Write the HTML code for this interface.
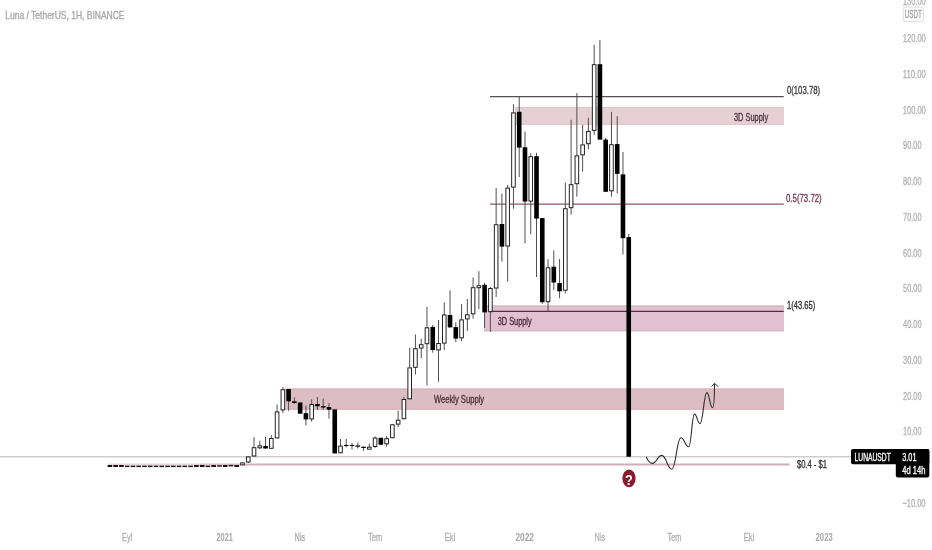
<!DOCTYPE html>
<html><head><meta charset="utf-8"><title>Luna / TetherUS</title>
<style>
html,body{margin:0;padding:0;background:#fff;}
body{width:932px;height:550px;overflow:hidden;}
svg{display:block;}
svg text{font-family:"Liberation Sans","DejaVu Sans",sans-serif;}
</style></head>
<body>
<svg width="932" height="550" viewBox="0 0 932 550">
<rect x="0" y="0" width="932" height="550" fill="#ffffff"/>
<!-- zones -->
<rect x="515" y="107.0" width="269" height="17.6" fill="#e7d0d5"/>
<line x1="515" y1="107.4" x2="784" y2="107.4" stroke="#dcc4ca" stroke-width="1"/>
<line x1="515" y1="124.2" x2="784" y2="124.2" stroke="#dcc4ca" stroke-width="1"/>
<rect x="484" y="305.5" width="300" height="25.8" fill="#e1c0d1"/>
<line x1="484" y1="306.3" x2="784" y2="306.3" stroke="#d3bcc6" stroke-width="1.6"/>
<line x1="484" y1="330.6" x2="784" y2="330.6" stroke="#d2b6c2" stroke-width="1.3"/>
<rect x="285.3" y="388.6" width="498.7" height="21.0" fill="#dcbdc3"/>
<line x1="285.3" y1="389" x2="784" y2="389" stroke="#d2b2b9" stroke-width="1"/>
<line x1="285.3" y1="409.2" x2="784" y2="409.2" stroke="#d2b2b9" stroke-width="1"/>
<!-- price lines -->
<line x1="0" y1="456.7" x2="851" y2="456.7" stroke="#cdcdcd" stroke-width="1.5"/>
<line x1="108" y1="464.5" x2="200" y2="464.5" stroke="#e8d3d9" stroke-width="2"/>
<line x1="200" y1="464.5" x2="244" y2="464.5" stroke="#dcc0c8" stroke-width="2"/>
<line x1="244" y1="464.5" x2="789.6" y2="464.5" stroke="#cfaeb8" stroke-width="2"/>
<!-- fib lines -->
<line x1="490" y1="96.7" x2="783.8" y2="96.7" stroke="#525252" stroke-width="1.3"/>
<line x1="490" y1="204.2" x2="783.8" y2="204.2" stroke="#8c5a69" stroke-width="1.3"/>
<line x1="489.8" y1="311.3" x2="783.8" y2="311.3" stroke="#5a2a45" stroke-width="1.3"/>
<!-- candles -->
<rect x="107.60" y="465.0" width="4.6" height="2.0" fill="#111"/>
<rect x="113.36" y="465.0" width="4.6" height="2.0" fill="#111"/>
<rect x="119.13" y="465.0" width="4.6" height="2.0" fill="#111"/>
<rect x="124.89" y="465.6" width="4.6" height="1.5" fill="#1a1a1a"/>
<rect x="130.66" y="465.6" width="4.6" height="1.5" fill="#1a1a1a"/>
<rect x="136.42" y="465.6" width="4.6" height="1.5" fill="#1a1a1a"/>
<rect x="142.19" y="465.6" width="4.6" height="1.5" fill="#1a1a1a"/>
<rect x="147.95" y="465.6" width="4.6" height="1.5" fill="#1a1a1a"/>
<rect x="153.72" y="465.6" width="4.6" height="1.5" fill="#1a1a1a"/>
<rect x="159.48" y="465.6" width="4.6" height="1.5" fill="#1a1a1a"/>
<rect x="165.25" y="465.6" width="4.6" height="1.5" fill="#1a1a1a"/>
<rect x="171.01" y="465.6" width="4.6" height="1.5" fill="#1a1a1a"/>
<rect x="176.78" y="465.6" width="4.6" height="1.5" fill="#1a1a1a"/>
<rect x="182.54" y="465.6" width="4.6" height="1.5" fill="#1a1a1a"/>
<rect x="188.31" y="465.6" width="4.6" height="1.5" fill="#1a1a1a"/>
<rect x="194.07" y="465.0" width="4.6" height="2.0" fill="#111"/>
<rect x="199.84" y="465.0" width="4.6" height="2.0" fill="#111"/>
<rect x="205.60" y="465.6" width="4.6" height="1.5" fill="#1a1a1a"/>
<rect x="211.37" y="465.0" width="4.6" height="2.0" fill="#111"/>
<rect x="217.13" y="465.2" width="4.6" height="1.5" fill="#1a1a1a"/>
<rect x="222.90" y="465.0" width="4.6" height="2.0" fill="#111"/>
<rect x="228.66" y="464.9" width="4.6" height="1.5" fill="#1a1a1a"/>
<rect x="234.43" y="465.0" width="4.6" height="2.0" fill="#111"/>
<line x1="242.49" y1="462.4" x2="242.49" y2="464.6" stroke="#505050" stroke-width="1"/>
<rect x="240.69" y="462.9" width="3.5999999999999996" height="2.0" fill="#fff" stroke="#222" stroke-width="1"/>
<line x1="248.26" y1="456.0" x2="248.26" y2="463.0" stroke="#505050" stroke-width="1"/>
<rect x="246.46" y="456.9" width="3.5999999999999996" height="5.1" fill="#fff" stroke="#222" stroke-width="1"/>
<line x1="254.02" y1="437.2" x2="254.02" y2="456.5" stroke="#505050" stroke-width="1"/>
<rect x="252.22" y="447.7" width="3.5999999999999996" height="8.3" fill="#fff" stroke="#222" stroke-width="1"/>
<line x1="259.79" y1="440.7" x2="259.79" y2="449.0" stroke="#505050" stroke-width="1"/>
<rect x="257.99" y="445.8" width="3.5999999999999996" height="2.0" fill="#fff" stroke="#222" stroke-width="1"/>
<line x1="265.56" y1="436.7" x2="265.56" y2="448.5" stroke="#505050" stroke-width="1"/>
<rect x="263.25" y="446.0" width="4.6" height="2.5" fill="#000"/>
<line x1="271.32" y1="434.9" x2="271.32" y2="448.8" stroke="#505050" stroke-width="1"/>
<rect x="269.52" y="438.5" width="3.5999999999999996" height="9.8" fill="#fff" stroke="#222" stroke-width="1"/>
<line x1="277.08" y1="404.7" x2="277.08" y2="438.4" stroke="#505050" stroke-width="1"/>
<rect x="275.28" y="411.9" width="3.5999999999999996" height="26.0" fill="#fff" stroke="#222" stroke-width="1"/>
<line x1="282.85" y1="387.1" x2="282.85" y2="413.1" stroke="#505050" stroke-width="1"/>
<rect x="281.05" y="389.7" width="3.5999999999999996" height="20.2" fill="#fff" stroke="#222" stroke-width="1"/>
<line x1="288.62" y1="389.0" x2="288.62" y2="410.9" stroke="#505050" stroke-width="1"/>
<rect x="286.31" y="389.0" width="4.6" height="12.3" fill="#000"/>
<line x1="294.38" y1="397.2" x2="294.38" y2="403.9" stroke="#505050" stroke-width="1"/>
<rect x="292.08" y="401.3" width="4.6" height="1.7" fill="#000"/>
<line x1="300.14" y1="402.5" x2="300.14" y2="413.7" stroke="#505050" stroke-width="1"/>
<rect x="297.84" y="402.5" width="4.6" height="11.2" fill="#000"/>
<line x1="305.91" y1="405.5" x2="305.91" y2="425.6" stroke="#505050" stroke-width="1"/>
<rect x="303.61" y="413.2" width="4.6" height="6.2" fill="#000"/>
<line x1="311.67" y1="399.3" x2="311.67" y2="421.7" stroke="#505050" stroke-width="1"/>
<rect x="309.87" y="404.5" width="3.5999999999999996" height="14.4" fill="#fff" stroke="#222" stroke-width="1"/>
<line x1="317.44" y1="397.0" x2="317.44" y2="410.0" stroke="#505050" stroke-width="1"/>
<rect x="315.14" y="404.0" width="4.6" height="2.3" fill="#000"/>
<line x1="323.20" y1="398.5" x2="323.20" y2="410.0" stroke="#505050" stroke-width="1"/>
<rect x="320.90" y="406.0" width="4.6" height="1.5" fill="#000"/>
<line x1="328.97" y1="403.2" x2="328.97" y2="418.6" stroke="#505050" stroke-width="1"/>
<rect x="326.67" y="407.0" width="4.6" height="2.7" fill="#000"/>
<line x1="334.74" y1="409.4" x2="334.74" y2="453.4" stroke="#505050" stroke-width="1"/>
<rect x="332.44" y="409.4" width="4.6" height="44.0" fill="#000"/>
<line x1="340.50" y1="439.0" x2="340.50" y2="453.3" stroke="#505050" stroke-width="1"/>
<rect x="338.70" y="446.1" width="3.5999999999999996" height="6.7" fill="#fff" stroke="#222" stroke-width="1"/>
<line x1="346.26" y1="439.0" x2="346.26" y2="447.3" stroke="#505050" stroke-width="1"/>
<rect x="343.96" y="445.0" width="4.6" height="1.0" fill="#000"/>
<line x1="352.03" y1="443.1" x2="352.03" y2="449.4" stroke="#505050" stroke-width="1"/>
<rect x="349.73" y="445.0" width="4.6" height="1.0" fill="#000"/>
<line x1="357.79" y1="442.5" x2="357.79" y2="448.5" stroke="#505050" stroke-width="1"/>
<rect x="355.49" y="445.5" width="4.6" height="1.2" fill="#000"/>
<line x1="363.56" y1="446.7" x2="363.56" y2="450.8" stroke="#505050" stroke-width="1"/>
<rect x="361.26" y="446.7" width="4.6" height="1.2" fill="#000"/>
<line x1="369.32" y1="443.7" x2="369.32" y2="448.5" stroke="#505050" stroke-width="1"/>
<rect x="367.52" y="447.2" width="3.5999999999999996" height="2.0" fill="#fff" stroke="#222" stroke-width="1"/>
<line x1="375.09" y1="436.4" x2="375.09" y2="447.9" stroke="#505050" stroke-width="1"/>
<rect x="373.29" y="438.1" width="3.5999999999999996" height="8.4" fill="#fff" stroke="#222" stroke-width="1"/>
<line x1="380.86" y1="437.8" x2="380.86" y2="444.7" stroke="#505050" stroke-width="1"/>
<rect x="378.56" y="437.8" width="4.6" height="6.9" fill="#000"/>
<line x1="386.62" y1="436.0" x2="386.62" y2="446.7" stroke="#505050" stroke-width="1"/>
<rect x="384.82" y="438.7" width="3.5999999999999996" height="5.1" fill="#fff" stroke="#222" stroke-width="1"/>
<line x1="392.38" y1="424.3" x2="392.38" y2="438.2" stroke="#505050" stroke-width="1"/>
<rect x="390.58" y="424.8" width="3.5999999999999996" height="12.9" fill="#fff" stroke="#222" stroke-width="1"/>
<line x1="398.15" y1="410.7" x2="398.15" y2="427.1" stroke="#505050" stroke-width="1"/>
<rect x="396.35" y="420.2" width="3.5999999999999996" height="3.9" fill="#fff" stroke="#222" stroke-width="1"/>
<line x1="403.91" y1="396.8" x2="403.91" y2="419.2" stroke="#505050" stroke-width="1"/>
<rect x="402.11" y="399.5" width="3.5999999999999996" height="19.2" fill="#fff" stroke="#222" stroke-width="1"/>
<line x1="409.68" y1="347.8" x2="409.68" y2="399.3" stroke="#505050" stroke-width="1"/>
<rect x="407.88" y="367.9" width="3.5999999999999996" height="30.9" fill="#fff" stroke="#222" stroke-width="1"/>
<line x1="415.44" y1="334.5" x2="415.44" y2="374.5" stroke="#505050" stroke-width="1"/>
<rect x="413.64" y="348.7" width="3.5999999999999996" height="18.6" fill="#fff" stroke="#222" stroke-width="1"/>
<line x1="421.21" y1="338.7" x2="421.21" y2="358.2" stroke="#505050" stroke-width="1"/>
<rect x="419.41" y="344.7" width="3.5999999999999996" height="3.3" fill="#fff" stroke="#222" stroke-width="1"/>
<line x1="426.97" y1="306.7" x2="426.97" y2="385.5" stroke="#505050" stroke-width="1"/>
<rect x="425.17" y="327.8" width="3.5999999999999996" height="15.9" fill="#fff" stroke="#222" stroke-width="1"/>
<line x1="432.74" y1="324.9" x2="432.74" y2="352.7" stroke="#505050" stroke-width="1"/>
<rect x="430.44" y="326.9" width="4.6" height="23.1" fill="#000"/>
<line x1="438.50" y1="320.0" x2="438.50" y2="381.8" stroke="#505050" stroke-width="1"/>
<rect x="436.70" y="343.5" width="3.5999999999999996" height="6.4" fill="#fff" stroke="#222" stroke-width="1"/>
<line x1="444.27" y1="302.4" x2="444.27" y2="350.0" stroke="#505050" stroke-width="1"/>
<rect x="442.47" y="315.0" width="3.5999999999999996" height="28.1" fill="#fff" stroke="#222" stroke-width="1"/>
<line x1="450.03" y1="290.3" x2="450.03" y2="327.4" stroke="#505050" stroke-width="1"/>
<rect x="447.73" y="315.0" width="4.6" height="12.4" fill="#000"/>
<line x1="455.80" y1="322.3" x2="455.80" y2="342.0" stroke="#505050" stroke-width="1"/>
<rect x="453.50" y="327.1" width="4.6" height="11.5" fill="#000"/>
<line x1="461.56" y1="304.2" x2="461.56" y2="341.2" stroke="#505050" stroke-width="1"/>
<rect x="459.76" y="319.9" width="3.5999999999999996" height="17.9" fill="#fff" stroke="#222" stroke-width="1"/>
<line x1="467.33" y1="299.0" x2="467.33" y2="331.0" stroke="#505050" stroke-width="1"/>
<rect x="465.53" y="314.8" width="3.5999999999999996" height="4.1" fill="#fff" stroke="#222" stroke-width="1"/>
<line x1="473.09" y1="277.5" x2="473.09" y2="318.7" stroke="#505050" stroke-width="1"/>
<rect x="471.29" y="287.7" width="3.5999999999999996" height="26.1" fill="#fff" stroke="#222" stroke-width="1"/>
<line x1="478.86" y1="271.2" x2="478.86" y2="309.2" stroke="#505050" stroke-width="1"/>
<rect x="477.06" y="285.7" width="3.5999999999999996" height="2.0" fill="#fff" stroke="#222" stroke-width="1"/>
<line x1="484.62" y1="282.5" x2="484.62" y2="328.0" stroke="#505050" stroke-width="1"/>
<rect x="482.32" y="284.8" width="4.6" height="27.6" fill="#000"/>
<line x1="490.39" y1="287.0" x2="490.39" y2="331.8" stroke="#505050" stroke-width="1"/>
<rect x="488.59" y="288.5" width="3.5999999999999996" height="23.2" fill="#fff" stroke="#222" stroke-width="1"/>
<line x1="496.15" y1="188.0" x2="496.15" y2="296.9" stroke="#505050" stroke-width="1"/>
<rect x="494.35" y="224.7" width="3.5999999999999996" height="63.3" fill="#fff" stroke="#222" stroke-width="1"/>
<line x1="501.92" y1="193.6" x2="501.92" y2="261.6" stroke="#505050" stroke-width="1"/>
<rect x="499.62" y="224.0" width="4.6" height="22.6" fill="#000"/>
<line x1="507.68" y1="184.8" x2="507.68" y2="281.6" stroke="#505050" stroke-width="1"/>
<rect x="505.88" y="188.1" width="3.5999999999999996" height="57.9" fill="#fff" stroke="#222" stroke-width="1"/>
<line x1="513.45" y1="104.2" x2="513.45" y2="208.8" stroke="#505050" stroke-width="1"/>
<rect x="511.65" y="112.9" width="3.5999999999999996" height="74.2" fill="#fff" stroke="#222" stroke-width="1"/>
<line x1="519.21" y1="96.5" x2="519.21" y2="177.0" stroke="#505050" stroke-width="1"/>
<rect x="516.91" y="111.8" width="4.6" height="35.8" fill="#000"/>
<line x1="524.98" y1="131.5" x2="524.98" y2="243.4" stroke="#505050" stroke-width="1"/>
<rect x="522.68" y="147.3" width="4.6" height="54.3" fill="#000"/>
<line x1="530.74" y1="153.1" x2="530.74" y2="234.2" stroke="#505050" stroke-width="1"/>
<rect x="528.94" y="156.7" width="3.5999999999999996" height="44.4" fill="#fff" stroke="#222" stroke-width="1"/>
<line x1="536.51" y1="152.9" x2="536.51" y2="277.0" stroke="#505050" stroke-width="1"/>
<rect x="534.21" y="156.2" width="4.6" height="62.4" fill="#000"/>
<line x1="542.27" y1="218.1" x2="542.27" y2="303.8" stroke="#505050" stroke-width="1"/>
<rect x="539.98" y="218.1" width="4.6" height="84.1" fill="#000"/>
<line x1="548.04" y1="259.1" x2="548.04" y2="311.4" stroke="#505050" stroke-width="1"/>
<rect x="546.24" y="267.8" width="3.5999999999999996" height="33.9" fill="#fff" stroke="#222" stroke-width="1"/>
<line x1="553.80" y1="250.4" x2="553.80" y2="290.2" stroke="#505050" stroke-width="1"/>
<rect x="551.50" y="266.7" width="4.6" height="15.8" fill="#000"/>
<line x1="559.57" y1="259.0" x2="559.57" y2="298.3" stroke="#505050" stroke-width="1"/>
<rect x="557.27" y="283.1" width="4.6" height="8.2" fill="#000"/>
<line x1="565.34" y1="182.5" x2="565.34" y2="293.4" stroke="#505050" stroke-width="1"/>
<rect x="563.54" y="208.7" width="3.5999999999999996" height="81.5" fill="#fff" stroke="#222" stroke-width="1"/>
<line x1="571.10" y1="119.8" x2="571.10" y2="214.7" stroke="#505050" stroke-width="1"/>
<rect x="569.30" y="184.7" width="3.5999999999999996" height="23.0" fill="#fff" stroke="#222" stroke-width="1"/>
<line x1="576.87" y1="93.1" x2="576.87" y2="196.7" stroke="#505050" stroke-width="1"/>
<rect x="575.07" y="155.8" width="3.5999999999999996" height="27.9" fill="#fff" stroke="#222" stroke-width="1"/>
<line x1="582.63" y1="124.7" x2="582.63" y2="171.6" stroke="#505050" stroke-width="1"/>
<rect x="580.83" y="144.9" width="3.5999999999999996" height="9.9" fill="#fff" stroke="#222" stroke-width="1"/>
<line x1="588.39" y1="117.8" x2="588.39" y2="149.3" stroke="#505050" stroke-width="1"/>
<rect x="586.60" y="131.4" width="3.5999999999999996" height="12.3" fill="#fff" stroke="#222" stroke-width="1"/>
<line x1="594.16" y1="44.8" x2="594.16" y2="134.7" stroke="#505050" stroke-width="1"/>
<rect x="592.36" y="64.7" width="3.5999999999999996" height="65.7" fill="#fff" stroke="#222" stroke-width="1"/>
<line x1="599.92" y1="39.9" x2="599.92" y2="139.6" stroke="#505050" stroke-width="1"/>
<rect x="597.62" y="64.2" width="4.6" height="75.4" fill="#000"/>
<line x1="605.69" y1="138.0" x2="605.69" y2="191.8" stroke="#505050" stroke-width="1"/>
<rect x="603.39" y="139.6" width="4.6" height="52.2" fill="#000"/>
<line x1="611.45" y1="111.8" x2="611.45" y2="196.7" stroke="#505050" stroke-width="1"/>
<rect x="609.65" y="144.7" width="3.5999999999999996" height="46.1" fill="#fff" stroke="#222" stroke-width="1"/>
<line x1="617.22" y1="116.2" x2="617.22" y2="193.4" stroke="#505050" stroke-width="1"/>
<rect x="614.92" y="144.1" width="4.6" height="29.7" fill="#000"/>
<line x1="622.98" y1="152.0" x2="622.98" y2="254.5" stroke="#505050" stroke-width="1"/>
<rect x="620.68" y="174.4" width="4.6" height="63.8" fill="#000"/>
<line x1="628.75" y1="233.8" x2="628.75" y2="456.7" stroke="#505050" stroke-width="1"/>
<rect x="626.45" y="237.1" width="4.6" height="219.6" fill="#000"/>
<!-- forecast path -->
<path d="M646.4,457.2 C647.8,460.2 649.8,463.4 652.3,463.4 C656.57,463.4 657.52,455.4 661.8,455.4 C666.30,455.4 667.30,469.2 671.8,469.2 C675.89,469.2 676.80,437.7 680.9,437.7 C684.41,437.7 685.19,446.8 688.7,446.8 C691.31,446.8 691.89,414.1 694.5,414.1 C696.98,414.1 697.52,423.7 700.0,423.7 C703.11,423.7 703.79,392.6 706.9,392.6 C709.38,392.6 709.92,407.7 712.4,407.7 C713.6,407.7 714.5,398 714.5,384" fill="none" stroke="#2e2e2e" stroke-width="1.1" stroke-linecap="round"/>
<path d="M711.6,386.6 L714.5,383.2 L718.2,386.6" fill="none" stroke="#333" stroke-width="1"/>
<!-- question mark -->
<ellipse cx="629" cy="478.4" rx="6.6" ry="8.9" fill="#8a1c2c"/>
<text x="629" y="484.6" font-size="15" font-weight="bold" fill="#fff" text-anchor="middle" transform="translate(629 0) scale(0.85 1) translate(-629 0)">?</text>
<!-- price label -->
<rect x="851" y="449" width="78.3" height="15.3" rx="2" fill="#000"/>
<rect x="895.8" y="449" width="33.5" height="28.5" rx="2" fill="#000"/>
<!-- USDT box -->
<rect x="903.1" y="7.1" width="20.3" height="14.6" rx="2" fill="#fff" stroke="#dcdcdc" stroke-width="1"/>
<text x="5.3" y="18.7" font-size="10.4" fill="#a9a9a9" font-weight="normal" stroke="#a9a9a9" stroke-width="0.35" textLength="119.2" lengthAdjust="spacingAndGlyphs">Luna / TetherUS, 1H, BINANCE</text>
<text x="902.8" y="5.3" font-size="11.2" fill="#b4b4b4" font-weight="normal" stroke="#b4b4b4" stroke-width="0.35" textLength="23.0" lengthAdjust="spacingAndGlyphs">130.00</text>
<text x="902.8" y="42.2" font-size="11.2" fill="#b4b4b4" font-weight="normal" stroke="#b4b4b4" stroke-width="0.35" textLength="23.0" lengthAdjust="spacingAndGlyphs">120.00</text>
<text x="902.8" y="77.9" font-size="11.2" fill="#b4b4b4" font-weight="normal" stroke="#b4b4b4" stroke-width="0.35" textLength="23.0" lengthAdjust="spacingAndGlyphs">110.00</text>
<text x="902.8" y="113.7" font-size="11.2" fill="#b4b4b4" font-weight="normal" stroke="#b4b4b4" stroke-width="0.35" textLength="23.0" lengthAdjust="spacingAndGlyphs">100.00</text>
<text x="903.0" y="149.4" font-size="11.2" fill="#b4b4b4" font-weight="normal" stroke="#b4b4b4" stroke-width="0.35" textLength="18.6" lengthAdjust="spacingAndGlyphs">90.00</text>
<text x="903.0" y="185.1" font-size="11.2" fill="#b4b4b4" font-weight="normal" stroke="#b4b4b4" stroke-width="0.35" textLength="18.6" lengthAdjust="spacingAndGlyphs">80.00</text>
<text x="903.0" y="220.9" font-size="11.2" fill="#b4b4b4" font-weight="normal" stroke="#b4b4b4" stroke-width="0.35" textLength="18.6" lengthAdjust="spacingAndGlyphs">70.00</text>
<text x="903.0" y="256.6" font-size="11.2" fill="#b4b4b4" font-weight="normal" stroke="#b4b4b4" stroke-width="0.35" textLength="18.6" lengthAdjust="spacingAndGlyphs">60.00</text>
<text x="903.0" y="292.3" font-size="11.2" fill="#b4b4b4" font-weight="normal" stroke="#b4b4b4" stroke-width="0.35" textLength="18.6" lengthAdjust="spacingAndGlyphs">50.00</text>
<text x="903.0" y="328.0" font-size="11.2" fill="#b4b4b4" font-weight="normal" stroke="#b4b4b4" stroke-width="0.35" textLength="18.6" lengthAdjust="spacingAndGlyphs">40.00</text>
<text x="903.0" y="363.8" font-size="11.2" fill="#b4b4b4" font-weight="normal" stroke="#b4b4b4" stroke-width="0.35" textLength="18.6" lengthAdjust="spacingAndGlyphs">30.00</text>
<text x="903.0" y="399.5" font-size="11.2" fill="#b4b4b4" font-weight="normal" stroke="#b4b4b4" stroke-width="0.35" textLength="18.6" lengthAdjust="spacingAndGlyphs">20.00</text>
<text x="903.0" y="435.2" font-size="11.2" fill="#b4b4b4" font-weight="normal" stroke="#b4b4b4" stroke-width="0.35" textLength="18.6" lengthAdjust="spacingAndGlyphs">10.00</text>
<text x="902.4" y="506.7" font-size="11.2" fill="#b4b4b4" font-weight="normal" stroke="#b4b4b4" stroke-width="0.35" textLength="23.1" lengthAdjust="spacingAndGlyphs">−10.00</text>
<text x="122.0" y="541.0" font-size="11.2" fill="#b0b0b0" font-weight="normal" stroke="#b0b0b0" stroke-width="0.35" textLength="10.2" lengthAdjust="spacingAndGlyphs">Eyl</text>
<text x="216.5" y="541.0" font-size="11.2" fill="#a8a8a8" font-weight="bold" stroke="#a8a8a8" stroke-width="0.0" textLength="16.5" lengthAdjust="spacingAndGlyphs">2021</text>
<text x="294.6" y="541.0" font-size="11.2" fill="#b0b0b0" font-weight="normal" stroke="#b0b0b0" stroke-width="0.35" textLength="10.7" lengthAdjust="spacingAndGlyphs">Nis</text>
<text x="368.0" y="541.0" font-size="11.2" fill="#b0b0b0" font-weight="normal" stroke="#b0b0b0" stroke-width="0.35" textLength="14.4" lengthAdjust="spacingAndGlyphs">Tem</text>
<text x="444.8" y="541.0" font-size="11.2" fill="#b0b0b0" font-weight="normal" stroke="#b0b0b0" stroke-width="0.35" textLength="10.5" lengthAdjust="spacingAndGlyphs">Eki</text>
<text x="515.4" y="541.0" font-size="11.2" fill="#a8a8a8" font-weight="bold" stroke="#a8a8a8" stroke-width="0.0" textLength="18.6" lengthAdjust="spacingAndGlyphs">2022</text>
<text x="594.8" y="541.0" font-size="11.2" fill="#b0b0b0" font-weight="normal" stroke="#b0b0b0" stroke-width="0.35" textLength="10.2" lengthAdjust="spacingAndGlyphs">Nis</text>
<text x="667.5" y="541.0" font-size="11.2" fill="#b0b0b0" font-weight="normal" stroke="#b0b0b0" stroke-width="0.35" textLength="14.0" lengthAdjust="spacingAndGlyphs">Tem</text>
<text x="743.7" y="541.0" font-size="11.2" fill="#b0b0b0" font-weight="normal" stroke="#b0b0b0" stroke-width="0.35" textLength="10.7" lengthAdjust="spacingAndGlyphs">Eki</text>
<text x="815.6" y="541.0" font-size="11.2" fill="#a8a8a8" font-weight="bold" stroke="#a8a8a8" stroke-width="0.0" textLength="17.1" lengthAdjust="spacingAndGlyphs">2023</text>
<text x="786.9" y="94.2" font-size="11.2" fill="#3c3c3c" font-weight="normal" stroke="#3c3c3c" stroke-width="0.35" textLength="33.2" lengthAdjust="spacingAndGlyphs">0(103.78)</text>
<text x="786.0" y="201.9" font-size="11.2" fill="#7a3a55" font-weight="normal" stroke="#7a3a55" stroke-width="0.35" textLength="35.7" lengthAdjust="spacingAndGlyphs">0.5(73.72)</text>
<text x="787.0" y="309.0" font-size="11.2" fill="#2e2e2e" font-weight="normal" stroke="#2e2e2e" stroke-width="0.35" textLength="28.2" lengthAdjust="spacingAndGlyphs">1(43.65)</text>
<text x="733.9" y="120.6" font-size="11.0" fill="#4a3540" font-weight="normal" stroke="#4a3540" stroke-width="0.35" textLength="34.3" lengthAdjust="spacingAndGlyphs">3D Supply</text>
<text x="497.8" y="325.0" font-size="11.0" fill="#4a2a40" font-weight="normal" stroke="#4a2a40" stroke-width="0.35" textLength="33.8" lengthAdjust="spacingAndGlyphs">3D Supply</text>
<text x="433.9" y="402.8" font-size="11.0" fill="#53303c" font-weight="normal" stroke="#53303c" stroke-width="0.35" textLength="50.3" lengthAdjust="spacingAndGlyphs">Weekly Supply</text>
<text x="796.9" y="468.0" font-size="11.2" fill="#333" font-weight="normal" stroke="#333" stroke-width="0.35" textLength="30.1" lengthAdjust="spacingAndGlyphs">$0.4 - $1</text>
<text x="904.7" y="17.6" font-size="11.2" fill="#a0a0a0" font-weight="normal" stroke="#a0a0a0" stroke-width="0.35" textLength="17.3" lengthAdjust="spacingAndGlyphs">USDT</text>
<text x="854.6" y="460.8" font-size="10.6" fill="#fff" font-weight="normal" stroke="#fff" stroke-width="0.35" textLength="36.2" lengthAdjust="spacingAndGlyphs">LUNAUSDT</text>
<text x="902.2" y="460.8" font-size="10.6" fill="#fff" font-weight="normal" stroke="#fff" stroke-width="0.35" textLength="14.3" lengthAdjust="spacingAndGlyphs">3.01</text>
<text x="902.2" y="474.2" font-size="10.6" fill="#fff" font-weight="normal" stroke="#fff" stroke-width="0.35" textLength="23.2" lengthAdjust="spacingAndGlyphs">4d 14h</text>
</svg>
</body></html>
